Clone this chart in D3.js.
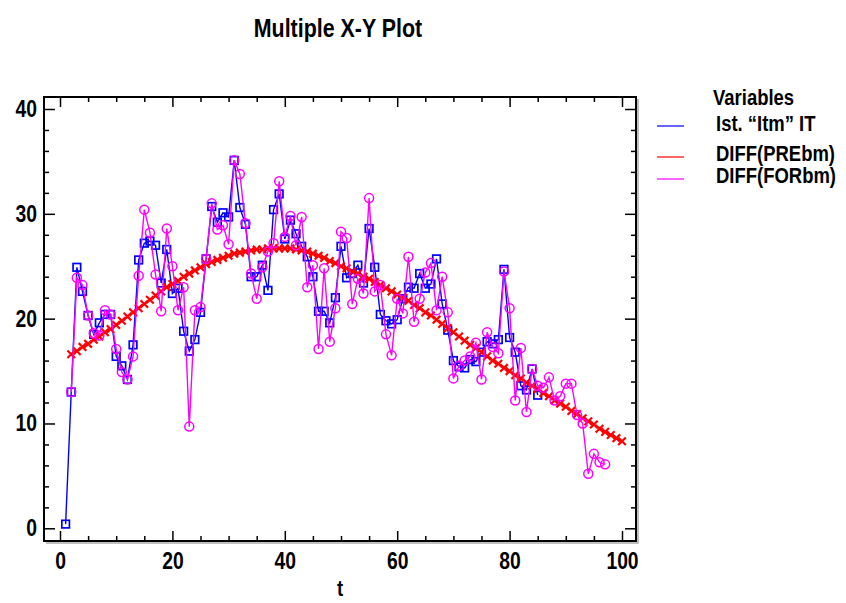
<!DOCTYPE html>
<html>
<head>
<meta charset="utf-8">
<script src="https://cdn.jsdelivr.net/npm/d3@7"></script>
<style>
    body { margin: 0; background: #fff; }
    svg text { font-family: "Liberation Sans", Arial, sans-serif; font-weight: bold; fill: #000; }
</style>
</head>
<body>
<div id="chart"></div>
<script>
// Ist. "Itm" IT, t = 1..85
const ist = [0.4, 13.0, 24.9, 22.6, 20.3, 18.5, 19.6, 20.4, 20.4, 16.4,
    15.5, 14.2, 17.5, 25.6, 27.2, 27.4, 27.0, 23.4, 26.6, 22.4,
    22.9, 18.8, 16.9, 18.0, 20.6, 25.7, 30.7, 29.2, 30.1, 29.7,
    35.1, 30.6, 29.0, 24.0, 24.0, 25.1, 22.7, 30.4, 31.9, 27.6,
    29.4, 28.1, 26.9, 25.9, 24.0, 20.7, 20.7, 19.6, 22.0, 26.9,
    23.9, 24.3, 25.1, 23.4, 28.6, 24.9, 20.4, 19.8, 19.5, 19.9,
    21.9, 23.0, 22.9, 24.3, 22.9, 23.3, 25.7, 21.4, 18.9, 16.0,
    15.4, 15.3, 16.1, 15.9, 16.8, 17.8, 17.6, 18.0, 24.7, 18.2,
    16.8, 13.6, 13.2, 15.2, 12.7];

// DIFF(PREbm), t = 2..100
const diffPre = [16.6, 16.9, 17.3, 17.6, 18.0, 18.3, 18.7, 19.0, 19.4,
    19.8, 20.2, 20.6, 21.0, 21.4, 21.8, 22.2, 22.6, 23.0, 23.3,
    23.6, 24.0, 24.3, 24.6, 24.9, 25.2, 25.4, 25.6, 25.8, 26.0,
    26.2, 26.3, 26.4, 26.5, 26.6, 26.6, 26.7, 26.7, 26.7, 26.7,
    26.7, 26.6, 26.5, 26.4, 26.2, 26.0, 25.8, 25.5, 25.3, 25.0,
    24.8, 24.5, 24.3, 24.0, 23.8, 23.5, 23.2, 22.9, 22.6, 22.3,
    22.0, 21.7, 21.3, 21.0, 20.6, 20.3, 19.9, 19.5, 19.1, 18.7,
    18.3, 17.9, 17.5, 17.2, 16.8, 16.4, 16.0, 15.7, 15.3, 15.0,
    14.6, 14.3, 13.9, 13.6, 13.3, 12.9, 12.6, 12.2, 11.9, 11.6,
    11.2, 10.9, 10.5, 10.2, 9.9, 9.5, 9.2, 8.9, 8.6, 8.3];

// DIFF(FORbm), t = 2..97
const diffFor = [13.0, 23.9, 23.2, 20.3, 18.6, 18.4, 20.8, 20.4, 17.1,
    14.9, 14.2, 16.4, 24.1, 30.4, 28.2, 24.2, 20.7, 28.6, 25.0,
    20.8, 23.0, 9.7, 20.8, 21.1, 25.7, 31.0, 28.5, 28.9, 27.1,
    35.1, 33.8, 29.1, 24.3, 21.9, 24.9, 26.4, 27.2, 33.1, 27.8,
    29.8, 27.0, 29.7, 23.0, 25.1, 17.1, 24.8, 17.8, 21.0, 28.3,
    27.7, 21.4, 23.8, 22.4, 31.5, 22.6, 23.2, 18.5, 16.5, 21.9,
    20.5, 25.9, 19.7, 21.9, 24.4, 25.3, 20.8, 24.0, 20.6, 14.3,
    15.5, 16.0, 16.4, 17.7, 14.2, 18.7, 17.3, 16.7, 24.5, 21.0,
    12.2, 17.2, 11.1, 15.2, 13.6, 13.4, 14.4, 12.2, 12.6, 13.8,
    13.8, 10.8, 10.0, 5.2, 7.1, 6.3, 6.1];

const tIst = d3.range(1, ist.length + 1);
const tPre = d3.range(2, diffPre.length + 2);
const tFor = d3.range(2, diffFor.length + 2);

const xTicks = [0, 20, 40, 60, 80, 100];
const yTicks = [0, 10, 20, 30, 40];
const legendNames = ["Ist. \u201cItm\u201d IT", "DIFF(PREbm)", "DIFF(FORbm)"];
const colors = ["#0000ff", "#ff0000", "#ff00ff"];

const width = 846, height = 603;
const frame = {left: 44, right: 636, top: 97, bottom: 541};
const narrow = 0.84;   // condensed look of the original font

const svg = d3.select("#chart")
    .append("svg")
    .attr("width", width)
    .attr("height", height);

const xScale = d3.scaleLinear().domain([0, 100]).range([60, 622]);
const yScale = d3.scaleLinear().domain([0, 40]).range([528.3, 109]);

function narrowText(x, y, size, txt, anchor) {
    return svg.append("text")
        .attr("transform", "translate(" + x + "," + y + ") scale(" + narrow + ",1)")
        .attr("text-anchor", anchor || "start")
        .style("font-size", size + "px")
        .text(txt);
}

// title
narrowText(338, 37, 25.5, "Multiple X-Y Plot", "middle");

// frame shadow + frame
svg.append("path")
    .attr("d", "M" + (frame.right + 2) + "," + (frame.top + 2) + "V" + (frame.bottom + 2) + "H" + (frame.left + 2))
    .attr("fill", "none")
    .attr("stroke", "#aaa")
    .attr("stroke-width", 1.5);

svg.append("rect")
    .attr("x", frame.left)
    .attr("y", frame.top)
    .attr("width", frame.right - frame.left)
    .attr("height", frame.bottom - frame.top)
    .attr("fill", "none")
    .attr("stroke", "#000")
    .attr("stroke-width", 2);

function tickAxis(axis, cls, tr) {
    const g = svg.append("g").attr("class", cls).attr("transform", tr).call(axis);
    g.select(".domain").remove();
    g.selectAll("line").attr("stroke", "#000").attr("stroke-width", 1.5);
    return g;
}

// major ticks with labels
const xAx = tickAxis(d3.axisBottom(xScale).tickValues(xTicks).tickSize(-10).tickPadding(12), "x-axis",
    "translate(0," + frame.bottom + ")");
const yAx = tickAxis(d3.axisLeft(yScale).tickValues(yTicks).tickSize(-11).tickPadding(7), "y-axis",
    "translate(" + frame.left + ",0)");
xAx.selectAll("text").style("font-size", "23px").attr("font-family", null)
    .attr("transform", "scale(" + narrow + ",1)");
yAx.selectAll("text").style("font-size", "23px").attr("font-family", null)
    .attr("x", -7 / narrow)
    .attr("transform", "scale(" + narrow + ",1)");

tickAxis(d3.axisTop(xScale).tickValues(xTicks).tickSize(-10).tickFormat(""), "x-top",
    "translate(0," + frame.top + ")");
tickAxis(d3.axisRight(yScale).tickValues(yTicks).tickSize(-11).tickFormat(""), "y-right",
    "translate(" + frame.right + ",0)");

// minor ticks
const xMinor = d3.range(0, 101, 5).filter(function(d) { return d % 20 !== 0; });
const yMinor = d3.range(0, 41, 2).filter(function(d) { return d % 10 !== 0; });
tickAxis(d3.axisBottom(xScale).tickValues(xMinor).tickSize(-5).tickFormat(""), "x-minor",
    "translate(0," + frame.bottom + ")");
tickAxis(d3.axisTop(xScale).tickValues(xMinor).tickSize(-5).tickFormat(""), "x-minor-top",
    "translate(0," + frame.top + ")");
tickAxis(d3.axisLeft(yScale).tickValues(yMinor).tickSize(-5).tickFormat(""), "y-minor",
    "translate(" + frame.left + ",0)");
tickAxis(d3.axisRight(yScale).tickValues(yMinor).tickSize(-5).tickFormat(""), "y-minor-right",
    "translate(" + frame.right + ",0)");

// x axis title
narrowText(340, 596, 22, "t", "middle");

const line = d3.line()
    .x(function(d) { return xScale(d[0]); })
    .y(function(d) { return yScale(d[1]); });

const blueData = tIst.map(function(t, i) { return [t, ist[i]]; });
const redData = tPre.map(function(t, i) { return [t, diffPre[i]]; });
const pinkData = tFor.map(function(t, i) { return [t, diffFor[i]]; });

/* Ist. "Itm" IT */
svg.append("path")
    .datum(blueData)
    .attr("d", line)
    .attr("fill", "none")
    .attr("stroke", colors[0])
    .attr("stroke-width", 1.4);

svg.selectAll(".sq")
    .data(blueData)
    .enter().append("rect")
    .attr("class", "sq")
    .attr("x", function(d) { return xScale(d[0]) - 3.8; })
    .attr("y", function(d) { return yScale(d[1]) - 3.8; })
    .attr("width", 7.6)
    .attr("height", 7.6)
    .attr("fill", "none")
    .attr("stroke", colors[0])
    .attr("stroke-width", 1.7);

/* DIFF(PREbm) */
svg.append("path")
    .datum(redData)
    .attr("d", line)
    .attr("fill", "none")
    .attr("stroke", colors[1])
    .attr("stroke-width", 1.6);

svg.selectAll(".cross")
    .data(redData)
    .enter().append("path")
    .attr("class", "cross")
    .attr("d", function(d) {
        const cx = xScale(d[0]), cy = yScale(d[1]), s = 3.8;
        return "M" + (cx - s) + "," + (cy - s) + "L" + (cx + s) + "," + (cy + s) +
            "M" + (cx - s) + "," + (cy + s) + "L" + (cx + s) + "," + (cy - s);
    })
    .attr("stroke", colors[1])
    .attr("stroke-width", 2.2);

/* DIFF(FORbm) */
svg.append("path")
    .datum(pinkData)
    .attr("d", line)
    .attr("fill", "none")
    .attr("stroke", colors[2])
    .attr("stroke-width", 1.4);

svg.selectAll(".circ")
    .data(pinkData)
    .enter().append("circle")
    .attr("class", "circ")
    .attr("cx", function(d) { return xScale(d[0]); })
    .attr("cy", function(d) { return yScale(d[1]); })
    .attr("r", 4.5)
    .attr("fill", "none")
    .attr("stroke", colors[2])
    .attr("stroke-width", 1.5);

// legend
narrowText(713, 105, 22, "Variables");

const legendY = [126, 157, 179];
const legendTextY = [131, 161, 183];
legendNames.forEach(function(name, i) {
    svg.append("line")
        .attr("x1", 657).attr("x2", 684)
        .attr("y1", legendY[i]).attr("y2", legendY[i])
        .attr("stroke", colors[i])
        .attr("stroke-width", 1.2);
    narrowText(716, legendTextY[i], 22, name);
});
</script>
</body>
</html>
